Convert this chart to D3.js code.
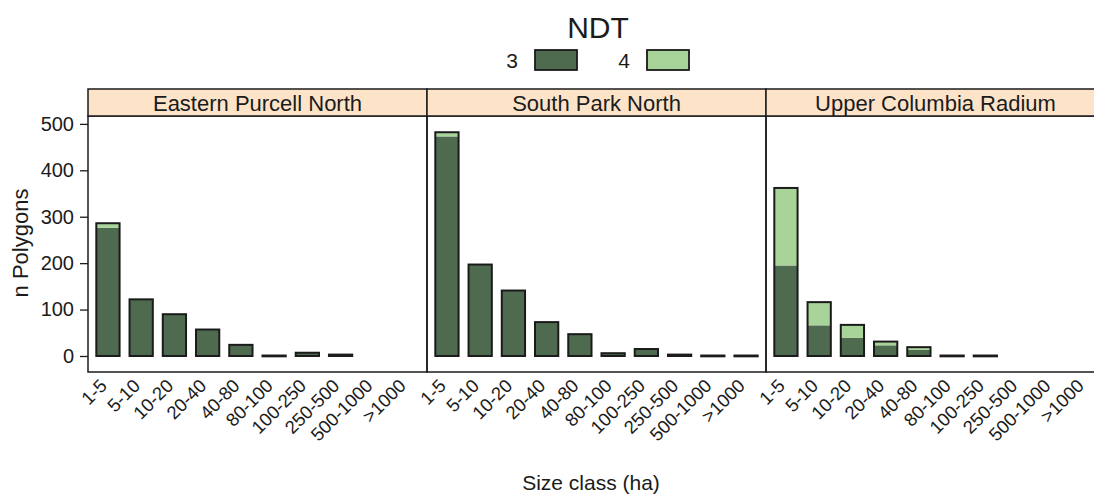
<!DOCTYPE html>
<html>
<head>
<meta charset="utf-8">
<script src="https://cdn.jsdelivr.net/npm/d3@7"></script>
<style>
  html, body { margin: 0; padding: 0; background: #fff; }
  svg { display: block; font-family: "Liberation Sans", Arial, sans-serif; }
</style>
</head>
<body>
<svg id="chart" width="1094" height="495"></svg>
<script>
// Size classes (ha) on the x axis
const sizeClasses = ["1-5", "5-10", "10-20", "20-40", "40-80", "80-100", "100-250", "250-500", "500-1000", ">1000"];
// Facet panels
const regions = ["Eastern Purcell North", "South Park North", "Upper Columbia Radium"];
// NDT series keys
const ndtKeys = ["3", "4"];

// Polygon counts per size class, NDT 3
const ndt3EasternPurcell = [276, 122, 90, 57, 24, 1, 7, 3, 0, 0];
const ndt3SouthPark      = [473, 197, 141, 73, 47, 6, 15, 3, 1, 1];
const ndt3UpperColumbia  = [195, 66, 39, 23, 13, 1, 1, 0, 0, 0];
// Polygon counts per size class, NDT 4
const ndt4EasternPurcell = [10, 0, 0, 0, 0, 0, 0, 0, 0, 0];
const ndt4SouthPark      = [9, 0, 0, 0, 0, 0, 0, 0, 0, 0];
const ndt4UpperColumbia  = [167, 50, 28, 8, 6, 0, 0, 0, 0, 0];

const yTicks = [0, 100, 200, 300, 400, 500];

const series3 = [ndt3EasternPurcell, ndt3SouthPark, ndt3UpperColumbia];
const series4 = [ndt4EasternPurcell, ndt4SouthPark, ndt4UpperColumbia];

const colors = { "3": "#4e6b4f", "4": "#a8d399" };
const ink = "#1b1b1b";

const svg = d3.select("#chart");

const panelLeft = 88, panelW = 339;
const stripTop = 89, stripH = 27;
const plotTop = stripTop + stripH, plotBottom = 372;

const y = d3.scaleLinear().domain([-34.5, 517]).range([plotBottom, plotTop]);
const x = d3.scaleBand().domain(sizeClasses).range([0, panelW]).paddingInner(0.3).paddingOuter(0.25);

regions.forEach((region, i) => {
  const g = svg.append("g").attr("transform", `translate(${panelLeft + i * panelW},0)`);

  const rows = sizeClasses.map((c, k) => ({ cls: c, "3": series3[i][k], "4": series4[i][k] }));
  const stacked = d3.stack().keys(ndtKeys)(rows);

  // stacked segments
  stacked.forEach(layer => {
    g.selectAll(null)
      .data(layer.filter(d => d[1] - d[0] > 0))
      .join("rect")
      .attr("x", d => x(d.data.cls))
      .attr("width", x.bandwidth())
      .attr("y", d => y(d[1]))
      .attr("height", d => Math.max(0, y(d[0]) - y(d[1])))
      .attr("fill", colors[layer.key]);
  });

  // bar outlines around each total
  g.selectAll(null)
    .data(rows.filter(d => d["3"] + d["4"] > 0))
    .join("rect")
    .attr("x", d => x(d.cls))
    .attr("width", x.bandwidth())
    .attr("y", d => y(d["3"] + d["4"]))
    .attr("height", d => Math.max(0.8, y(0) - y(d["3"] + d["4"])))
    .attr("fill", "none")
    .attr("stroke", ink)
    .attr("stroke-width", 2);

  // panel frame
  g.append("rect")
    .attr("x", 0).attr("y", plotTop)
    .attr("width", panelW).attr("height", plotBottom - plotTop)
    .attr("fill", "none").attr("stroke", ink).attr("stroke-width", 1.5);

  // strip
  g.append("rect")
    .attr("x", 0).attr("y", stripTop)
    .attr("width", panelW).attr("height", stripH)
    .attr("fill", "#fde4c9").attr("stroke", ink).attr("stroke-width", 1.5);
  g.append("text")
    .attr("x", panelW / 2).attr("y", stripTop + 22)
    .attr("text-anchor", "middle")
    .attr("font-size", 22)
    .attr("fill", ink)
    .text(region);

  // x tick labels
  g.selectAll(null)
    .data(sizeClasses)
    .join("text")
    .attr("transform", d => `translate(${x(d) + x.bandwidth() / 2},${plotBottom + 15}) rotate(-45)`)
    .attr("text-anchor", "end")
    .attr("font-size", 18.5)
    .attr("fill", ink)
    .text(d => d);
});

// y axis
const yAxis = d3.axisLeft(y).tickValues(yTicks).tickSize(8).tickPadding(6);
const ya = svg.append("g").attr("transform", `translate(${panelLeft},0)`).call(yAxis);
ya.select(".domain").remove();
ya.selectAll("line").attr("stroke", ink).attr("stroke-width", 1.3);
ya.selectAll("text").attr("font-size", 20).attr("fill", ink).attr("font-family", "Liberation Sans, Arial, sans-serif");

// axis titles
svg.append("text")
  .attr("transform", `translate(28,243) rotate(-90)`)
  .attr("text-anchor", "middle")
  .attr("font-size", 22).attr("fill", ink)
  .text("n Polygons");
svg.append("text")
  .attr("x", 591).attr("y", 490)
  .attr("text-anchor", "middle")
  .attr("font-size", 21).attr("fill", ink)
  .text("Size class (ha)");

// legend
svg.append("text")
  .attr("x", 598).attr("y", 38)
  .attr("text-anchor", "middle")
  .attr("font-size", 30).attr("fill", ink)
  .text("NDT");
const legendX = d3.scalePoint().domain(ndtKeys).range([512, 624]);
const lg = svg.selectAll("g.legend")
  .data(ndtKeys)
  .join("g")
  .attr("class", "legend")
  .attr("transform", d => `translate(${legendX(d)},0)`);
lg.append("text")
  .attr("x", 0).attr("y", 68)
  .attr("text-anchor", "middle")
  .attr("font-size", 21).attr("fill", ink)
  .text(d => d);
lg.append("rect")
  .attr("x", 23).attr("y", 50)
  .attr("width", 42).attr("height", 20)
  .attr("fill", d => colors[d])
  .attr("stroke", ink).attr("stroke-width", 1.8);
</script>
</body>
</html>
